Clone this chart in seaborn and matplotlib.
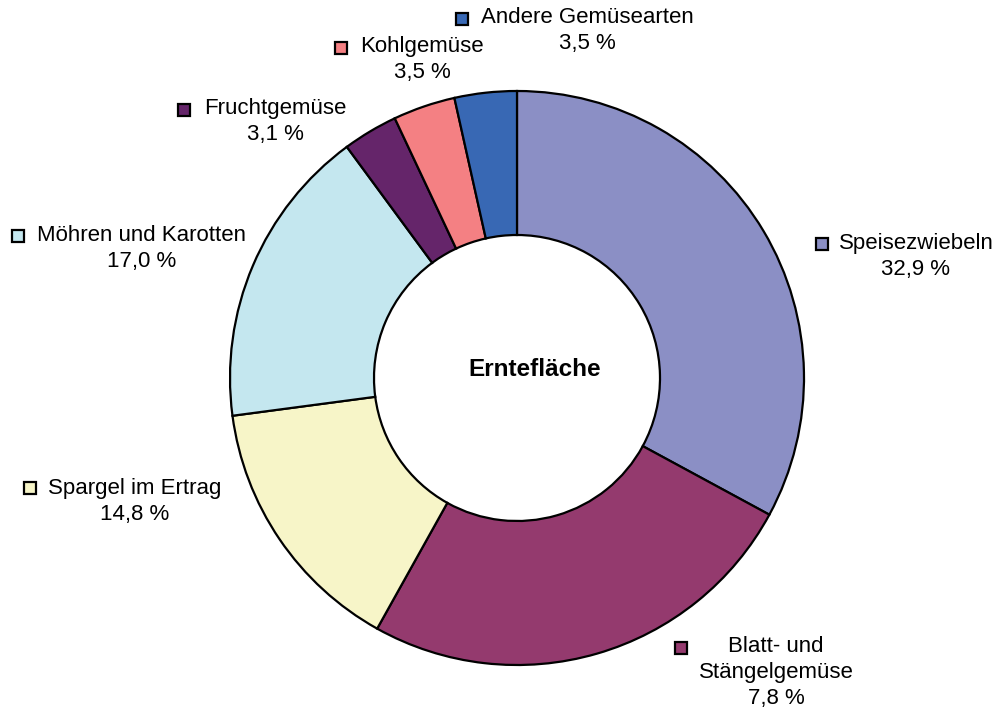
import matplotlib
matplotlib.use("Agg")
import matplotlib.pyplot as plt
import seaborn as sns

# slices, clockwise from 12 o'clock
categories = ["Speisezwiebeln", "Blatt- und\nStängelgemüse", "Spargel im Ertrag",
              "Möhren und Karotten", "Fruchtgemüse", "Kohlgemüse", "Andere Gemüsearten"]
shares = [32.9, 25.2, 14.8, 17.0, 3.1, 3.5, 3.5]
pct_labels = ["32,9 %", "7,8 %", "14,8 %", "17,0 %", "3,1 %", "3,5 %", "3,5 %"]
colors = ["#8B8FC5", "#943A6E", "#F7F5C8", "#C4E7EF", "#65256A", "#F48083", "#3868B4"]

sns.set_style("white")
plt.rcParams['font.family'] = ['Liberation Sans', 'DejaVu Sans']
plt.rcParams['text.color'] = 'black'

W, H = 1004, 713
fig = plt.figure(figsize=(W / 100, H / 100), dpi=100)
ax = fig.add_axes([0, 0, 1, 1])

# donut
cx, cy, r = 517, H - 378, 287
ax.pie(shares, colors=colors, startangle=90, counterclock=False,
       center=(cx, cy), radius=r,
       wedgeprops=dict(width=r - 143, edgecolor='black', linewidth=1.6))
ax.set_xlim(0, W)
ax.set_ylim(0, H)
ax.set_aspect('equal')
ax.set_axis_off()

ax.text(535, H - 370, "Erntefläche", ha='center', va='center',
        fontsize=17.5, fontweight='bold', color='black')

# label layout in pixels from the top: (marker x, marker y, text center x, first line y)
label_pos = [
    (822, 244, 916, 245),
    (681, 648, 776, 648),
    (30, 488, 135, 490),
    (18, 236, 142, 237),
    (184, 110, 275, 110),
    (341, 48, 422, 48),
    (462, 19, 587, 19),
]

for name, pct, col, (mx, my, tx, ty) in zip(categories, pct_labels, colors, label_pos):
    ax.plot(mx, H - my, marker='s', ms=8, mfc=col, mec='black', mew=1.6,
            clip_on=False)
    block = name + "\n" + pct
    # first line centred on ty
    ax.text(tx, H - ty + 12, block, ha='center', va='top', fontsize=16,
            linespacing=1.3, multialignment='center', color='black')

fig.savefig("out.png", dpi=100)
